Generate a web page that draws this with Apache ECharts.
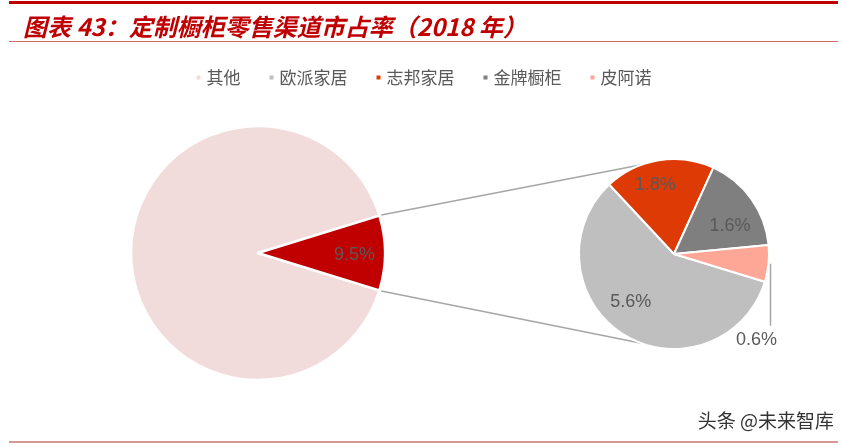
<!DOCTYPE html>
<html>

<head>
    <meta charset="utf-8">
    <title>定制橱柜零售渠道市占率</title>
    <script src="https://cdn.jsdelivr.net/npm/echarts@6/dist/echarts.min.js"></script>
    <style>
        html, body { margin: 0; padding: 0; background: #fff; }
    </style>
</head>

<body>
    <div id="main" style="width: 846px;height:446px;"></div>
    <script type="text/javascript">
        // 数据
        var legendNames = ['其他', '欧派家居', '志邦家居', '金牌橱柜', '皮阿诺'];
        var mainNames = ['其他', '四家合计'];
        var mainValues = [90.5, 9.5];
        var subNames = ['欧派家居', '志邦家居', '金牌橱柜', '皮阿诺'];
        var subValues = [5.6, 1.8, 1.6, 0.6];

        var mainColors = ['#F2DCDB', '#C00000'];
        var subColors = ['#BFBFBF', '#DE3A06', '#7F7F7F', '#FFA797'];

        // 两个饼的位置
        var LC = [258, 253], LR = 127;
        var SC = [674, 254], SR = 95;
        var groupAngle = mainValues[1] / (mainValues[0] + mainValues[1]) * 360;
        var mainStart = 360 - groupAngle / 2;
        var subStart = 343;
        // 小饼标签的微调（角度偏移、半径比例）
        var subLabelShift = [-10, 6, -9, 0];
        var subLabelRatio = [0.68, 0.75, 0.66, 0];

        function midAngle(values, idx, start) {
            var total = 0, before = 0;
            for (var k = 0; k < values.length; k++) {
                total += values[k];
                if (k < idx) before += values[k];
            }
            return start - (before + values[idx] / 2) / total * 360;
        }

        function polar(c, r, deg) {
            var a = deg * Math.PI / 180;
            return [c[0] + r * Math.cos(a), c[1] - r * Math.sin(a)];
        }

        var myChart = echarts.init(document.getElementById('main'));

        var labelStyle = {
            color: '#595959',
            fontSize: 18,
            fontFamily: 'Liberation Sans, Arial, sans-serif',
            formatter: '{c}%'
        };

        // 连接线
        var p1 = polar(LC, LR + 2, groupAngle / 2);
        var p2 = polar(SC, SR, 110);
        var p3 = polar(LC, LR + 2, -groupAngle / 2);
        var p4 = polar(SC, SR, -110);

        myChart.setOption({
            animation: false,
            title: {
                text: '图表 43：定制橱柜零售渠道市占率（2018 年）',
                left: 18,
                top: 10,
                textStyle: {
                    fontFamily: 'Noto Sans CJK SC',
                    fontSize: 24,
                    fontStyle: 'italic',
                    fontWeight: 'bold',
                    color: '#C00000'
                }
            },
            legend: {
                data: legendNames,
                left: 'center',
                top: 64,
                icon: 'rect',
                itemWidth: 6,
                itemHeight: 6,
                itemGap: 27,
                textStyle: {
                    fontFamily: 'Noto Sans CJK SC',
                    fontSize: 17,
                    color: '#595959'
                }
            },
            graphic: [
                { type: 'rect', shape: { x: 9, y: 1, width: 829, height: 3 }, style: { fill: '#C00000' } },
                { type: 'rect', shape: { x: 9, y: 41, width: 829, height: 1 }, style: { fill: '#D46A6A' } },
                { type: 'rect', shape: { x: 9, y: 441, width: 829, height: 2 }, style: { fill: '#D99694' } },
                { type: 'line', shape: { x1: p1[0], y1: p1[1], x2: p2[0], y2: p2[1] }, style: { stroke: '#A6A6A6', lineWidth: 1.5 } },
                { type: 'line', shape: { x1: p3[0], y1: p3[1], x2: p4[0], y2: p4[1] }, style: { stroke: '#A6A6A6', lineWidth: 1.5 } },
                {
                    type: 'text', right: 11, top: 410,
                    style: {
                        text: '头条 @未来智库', fill: '#333', fontSize: 19,
                        fontFamily: 'Noto Sans CJK SC',
                        stroke: '#fff', lineWidth: 2
                    }
                }
            ],
            series: [
                {
                    type: 'pie',
                    center: LC,
                    radius: LR,
                    startAngle: mainStart,
                    clockwise: true,
                    silent: true,
                    itemStyle: { borderColor: '#fff', borderWidth: 2.5 },
                    label: Object.assign({ position: 'inside' }, labelStyle),
                    labelLine: { show: false },
                    labelLayout: function (params) {
                        var p = polar(LC, LR * 0.76, midAngle(mainValues, params.dataIndex, mainStart));
                        return { x: p[0], y: p[1] + 2 };
                    },
                    data: mainNames.map(function (n, i) {
                        return {
                            name: n,
                            value: mainValues[i],
                            itemStyle: { color: mainColors[i] },
                            label: { show: i === 1 }
                        };
                    })
                },
                {
                    type: 'pie',
                    center: SC,
                    radius: SR,
                    startAngle: subStart,
                    clockwise: true,
                    silent: true,
                    itemStyle: { borderColor: '#fff', borderWidth: 2 },
                    label: Object.assign({ position: 'inside' }, labelStyle),
                    labelLine: { show: false },
                    labelLayout: function (params) {
                        var i = params.dataIndex;
                        var ang = midAngle(subValues, i, subStart);
                        if (i === 3) {
                            var e = polar(SC, SR + 2, ang);
                            return {
                                x: e[0] - 14,
                                y: e[1] + 76,
                                align: 'center',
                                verticalAlign: 'middle',
                                labelLinePoints: [[e[0], e[1]], [e[0], e[1] + 62], [e[0], e[1] + 62]]
                            };
                        }
                        var p = polar(SC, SR * subLabelRatio[i], ang + subLabelShift[i]);
                        return { x: p[0], y: p[1] };
                    },
                    data: subNames.map(function (n, i) {
                        var d = {
                            name: n,
                            value: subValues[i],
                            itemStyle: { color: subColors[i] }
                        };
                        if (i === 3) {
                            d.label = { position: 'outside' };
                            d.labelLine = { show: true, length: 10, length2: 10, lineStyle: { color: '#A6A6A6', width: 1.5 } };
                        }
                        return d;
                    })
                }
            ]
        });
    </script>
</body>

</html>
